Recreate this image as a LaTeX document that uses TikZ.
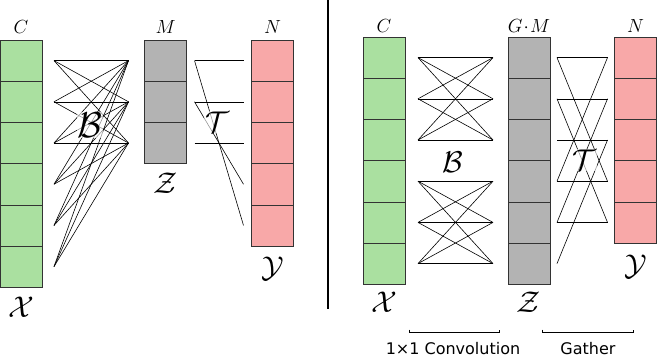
\RequirePackage{fix-cm}
\documentclass[tikz,border=0pt]{standalone}
\usepackage{amsmath}
\usepackage{fontspec}
\newfontfamily\TextoEtiqueta{DejaVu Sans}
\usetikzlibrary{positioning}
\definecolor{ColorEntrada}{RGB}{170,224,160}
\definecolor{ColorMedio}{RGB}{179,179,179}
\definecolor{ColorSalida}{RGB}{248,168,168}

\begin{document}
\begin{tikzpicture}[x=1pt, y=-1pt,
  celda/.style={rectangle, draw=black!80, line width=0.6pt, minimum width=42pt, minimum height=41.2pt, inner sep=0pt, outer sep=0pt},
  enlace/.style={line width=0.6pt},
  dim/.style={inner sep=0pt, font=\fontsize{19}{19}\selectfont},
  conj/.style={inner sep=0pt, font=\fontsize{30}{30}\selectfont},
  peso/.style={conj, fill=white, fill opacity=0.6, text opacity=1, inner sep=1pt},
  etiqueta/.style={inner sep=0pt, font=\TextoEtiqueta\fontsize{16}{16}\selectfont}]
  \useasboundingbox (0,0) rectangle (657,360);

  \node[celda, fill=ColorEntrada] (lx1) at (21,60.6) {};
  \node[celda, fill=ColorMedio] (lz1) at (165.5,60.6) {};
  \node[celda, fill=ColorSalida] (ly1) at (272.5,60.6) {};
  \node[celda, fill=ColorEntrada] (rx1) at (384,57.6) {};
  \node[celda, fill=ColorMedio] (rz1) at (529,57.6) {};
  \node[celda, fill=ColorSalida] (ry1) at (635.5,57.6) {};
  \foreach \i [count=\j from 2] in {1,...,5} {
    \node[celda, fill=ColorEntrada, below=0pt of lx\i] (lx\j) {};
    \node[celda, fill=ColorEntrada, below=0pt of rx\i] (rx\j) {};
    \node[celda, fill=ColorMedio, below=0pt of rz\i] (rz\j) {};
  }
  \foreach \i [count=\j from 2] in {1,2} \node[celda, fill=ColorMedio, below=0pt of lz\i] (lz\j) {};
  \foreach \i [count=\j from 2] in {1,...,4} {
    \node[celda, fill=ColorSalida, below=0pt of ly\i] (ly\j) {};
    \node[celda, fill=ColorSalida, below=0pt of ry\i] (ry\j) {};
  }

  \node[dim, above=6pt of lx1] (lC) {$C$};
  \node[dim, above=6pt of lz1] (lM) {$M$};
  \node[dim, above=6pt of ly1] (lN) {$N$};
  \node[conj, below=10pt of lx6] (lX) {$\mathcal{X}$};
  \node[conj, below=9pt of lz3] (lZ) {$\mathcal{Z}$};
  \node[conj, below=11pt of ly5] (lY) {$\mathcal{Y}$};

  \foreach \i in {1,...,6} \coordinate (lbe\i) at ([xshift=12pt]lx\i.east);
  \foreach \j in {1,2,3} {
    \coordinate (lbs\j) at ([xshift=-16pt]lz\j.west);
    \coordinate (lte\j) at ([xshift=8pt]lz\j.east);
  }
  \foreach \k in {1,...,5} \coordinate (lts\k) at ([xshift=-8pt]ly\k.west);
  \foreach \i in {1,...,6} \foreach \j in {1,2,3} \draw[enlace] (lbe\i) -- (lbs\j);
  \foreach \a/\b in {1/1,1/5,2/2,2/4,3/3} \draw[enlace] (lte\a) -- (lts\b);
  \node[peso, font=\fontsize{36}{36}\selectfont] (lB) at (90,125) {$\mathcal{B}$};
  \node[peso] (lT) at (217,122) {$\mathcal{T}$};

  \draw[line width=2pt] (328,0) -- (328,309);

  \node[dim, above=4pt of rx1] (rC) {$C$};
  \node[dim, above=4pt of rz1] (rGM) {$G\!\cdot\! M$};
  \node[dim, above=4pt of ry1] (rN) {$N$};
  \node[conj, below=8pt of rx6] (rX) {$\mathcal{X}$};
  \node[conj, below=8pt of rz6] (rZ) {$\mathcal{Z}$};
  \node[conj, below=12pt of ry5] (rY) {$\mathcal{Y}$};

  \foreach \i in {1,...,6} {
    \coordinate (rbe\i) at ([xshift=13pt]rx\i.east);
    \coordinate (rbs\i) at ([xshift=-15pt]rz\i.west);
    \coordinate (rte\i) at ([xshift=7pt]rz\i.east);
  }
  \foreach \k in {1,...,5} \coordinate (rts\k) at ([xshift=-7pt]ry\k.west);
  \foreach \grupo in {{1,2,3},{4,5,6}}
    \foreach \a in \grupo \foreach \b in \grupo \draw[enlace] (rbe\a) -- (rbs\b);
  \foreach \a/\b in {1/1,2/2,3/3,4/4,5/5,1/4,4/1,2/5,5/2,6/3} \draw[enlace] (rte\a) -- (rts\b);
  \node[peso] (rB) at (453,162) {$\mathcal{B}$};
  \node[peso] (rT) at (584,160) {$\mathcal{T}$};

  \node[etiqueta] (conv) at (453,349) {1×1 Convolution};
  \node[etiqueta] (gather) at (588,349) {Gather};
  \draw[enlace] (409,329.5) |- (499,332) -- (499,329.5);
  \draw[enlace] (542,329.5) |- (633,332) -- (633,329.5);
\end{tikzpicture}
\end{document}
